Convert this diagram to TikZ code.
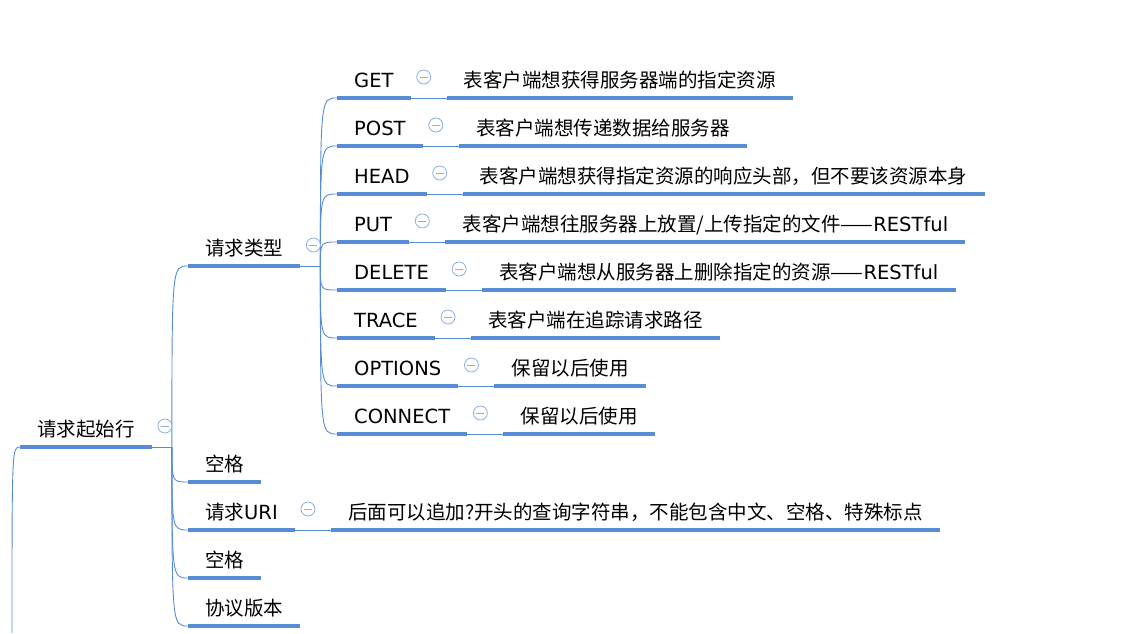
\documentclass[tikz,border=0pt]{standalone}
\usepackage{fontspec}
\setmainfont{Noto Sans CJK SC}
\newfontfamily\latfont{DejaVu Sans}
\newcommand{\lat}[1]{{\latfont #1}}
\usetikzlibrary{positioning}

\definecolor{lineblue}{RGB}{86,141,212}
\definecolor{foldblue}{RGB}{140,174,226}

\tikzset{
  topic/.style={anchor=south west, inner xsep=17pt, inner ysep=6.5pt,
    text height=15pt, text depth=4pt, font=\fontsize{19.5}{23}\selectfont},
  uline/.style={draw=lineblue, line width=4pt},
  link/.style={draw=lineblue, line width=0.9pt},
  fold/.style={circle, draw=foldblue, fill=white, line width=0.8pt,
    minimum size=14pt, inner sep=0pt,
    path picture={\draw[foldblue, line width=0.8pt]
      ([xshift=-4pt]path picture bounding box.center) --
      ([xshift=4pt]path picture bounding box.center);}},
  branch/.style={to path={.. controls (\tikztostart |- \tikztotarget)
    and (\tikztostart |- \tikztotarget) .. (\tikztotarget)}}
}

\begin{document}
\begin{tikzpicture}[x=1pt, y=-1pt]
    \useasboundingbox (0,0) rectangle (1128,633);

    % root
    \node[topic] (root) at (20,447) {请求起始行};
    \coordinate (base) at (12,633);
    \coordinate (rootj) at ([xshift=20pt]root.south east);

    % second level
    \node[topic] (type) at (188,266) {请求类型};
    \node[topic] (space1) at (188,482) {空格};
    \node[topic] (uri) at (188,530) {请求\lat{URI}};
    \node[topic] (space2) at (188,578) {空格};
    \node[topic] (version) at (188,626) {协议版本};
    \coordinate (typej) at ([xshift=20pt]type.south east);

    % methods
    \node[topic] (get) at (337,98) {\lat{GET}};
    \node[topic] (post) at (337,146) {\lat{POST}};
    \node[topic] (head) at (337,194) {\lat{HEAD}};
    \node[topic] (put) at (337,242) {\lat{PUT}};
    \node[topic] (delete) at (337,290) {\lat{DELETE}};
    \node[topic] (trace) at (337,338) {\lat{TRACE}};
    \node[topic] (options) at (337,386) {\lat{OPTIONS}};
    \node[topic] (connect) at (337,434) {\lat{CONNECT}};

    % descriptions
    \node[topic] (getd) at ([xshift=36pt]get.south east) {表客户端想获得服务器端的指定资源};
    \node[topic] (postd) at ([xshift=36pt]post.south east) {表客户端想传递数据给服务器};
    \node[topic] (headd) at ([xshift=36pt]head.south east) {表客户端想获得指定资源的响应头部，但不要该资源本身};
    \node[topic] (putd) at ([xshift=36pt]put.south east) {表客户端想往服务器上放置/上传指定的文件——\lat{RESTful}};
    \node[topic] (deleted) at ([xshift=36pt]delete.south east) {表客户端想从服务器上删除指定的资源——\lat{RESTful}};
    \node[topic] (traced) at ([xshift=36pt]trace.south east) {表客户端在追踪请求路径};
    \node[topic] (optionsd) at ([xshift=36pt]options.south east) {保留以后使用};
    \node[topic] (connectd) at ([xshift=36pt]connect.south east) {保留以后使用};
    \node[topic] (urid) at ([xshift=36pt]uri.south east) {后面可以追加?开头的查询字符串，不能包含中文、空格、特殊标点};

    % connectors
    \draw[link] (base) to[branch] (root.south west);
    \draw[link] (root.south east) -- (rootj);
    \foreach \n in {type,space1,uri,space2,version}
        \draw[link] (rootj) to[branch] (\n.south west);
    \draw[link] (type.south east) -- (typej);
    \foreach \n in {get,post,head,put,delete,trace,options,connect}
        \draw[link] (typej) to[branch] (\n.south west);
    \foreach \n in {get,post,head,put,delete,trace,options,connect,uri}
        \draw[link] (\n.south east) -- (\n d.south west);

    % underlines
    \foreach \n in {root,type,space1,uri,space2,version,get,post,head,put,delete,trace,options,connect,
        getd,postd,headd,putd,deleted,traced,optionsd,connectd,urid}
        \draw[uline] (\n.south west) -- (\n.south east);

    % fold marks
    \foreach \n in {root,type,uri,get,post,head,put,delete,trace,options,connect}
        \node[fold] (\n-fold) at ([shift={(13,-21)}]\n.south east) {};
\end{tikzpicture}
\end{document}
